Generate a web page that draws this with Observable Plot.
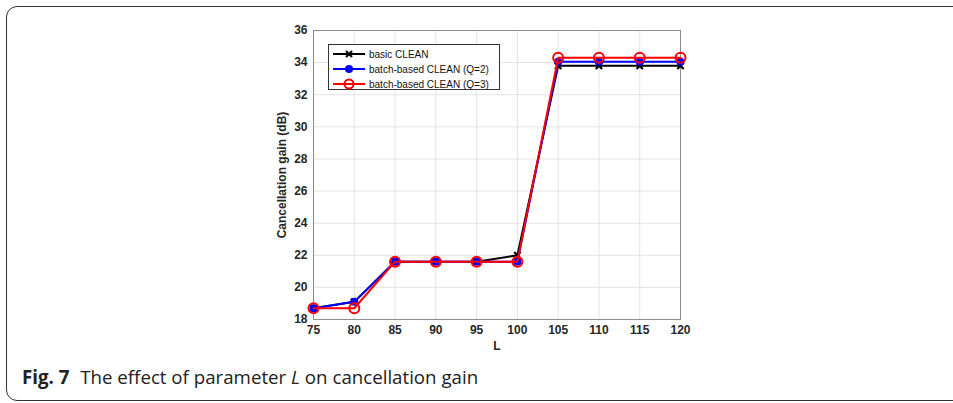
<!DOCTYPE html>
<html>
<head>
<meta charset="utf-8">
<script src="https://cdn.jsdelivr.net/npm/d3@7"></script>
<script src="https://cdn.jsdelivr.net/npm/@observablehq/plot@0.6"></script>
<style>
  html, body { margin: 0; padding: 0; background: #fff; }
  #wrap { position: relative; width: 953px; height: 403px; overflow: hidden; }
  #border { position: absolute; left: 6px; top: 6px; width: 980px; height: 393px; border: 1.5px solid #333; border-radius: 11px; }
  #chart { position: absolute; left: 0; top: 0; }
  #legend { position: absolute; left: 328px; top: 44px; width: 172px; height: 46px; background: #fff; border: 1px solid #333; box-sizing: border-box; font: 10px "Liberation Sans", Arial, sans-serif; color: #111; }
  .row { position: absolute; left: 3px; height: 14px; display: flex; align-items: center; }
  .row svg { margin-right: 3px; }
  #caption { position: absolute; left: 22px; top: 364px; font: 18.7px "Open Sans", "Noto Sans", sans-serif; color: #222; white-space: nowrap; }
  #caption b { font-weight: 700; margin-right: 6px; }
</style>
</head>
<body>
<div id="wrap">
  <div id="border"></div>
  <div id="chart"></div>
  <div id="legend"></div>
  <div id="caption"><b>Fig. 7</b> The effect of parameter <i>L</i> on cancellation gain</div>
</div>
<script>
const L = [75, 80, 85, 90, 95, 100, 105, 110, 115, 120];
const basicClean = [18.7, 19.1, 21.6, 21.6, 21.6, 22.0, 33.8, 33.8, 33.8, 33.8];
const batchQ2 = [18.7, 19.1, 21.6, 21.6, 21.6, 21.6, 34.05, 34.05, 34.05, 34.05];
const batchQ3 = [18.7, 18.7, 21.6, 21.6, 21.6, 21.6, 34.3, 34.3, 34.3, 34.3];
const seriesNames = ["basic CLEAN", "batch-based CLEAN (Q=2)", "batch-based CLEAN (Q=3)"];
const seriesColors = ["#000000", "#0000ff", "#ff0000"];
const xTicks = [75, 80, 85, 90, 95, 100, 105, 110, 115, 120];
const yTicks = [18, 20, 22, 24, 26, 28, 30, 32, 34, 36];

const rows = (vals) => L.map((l, i) => ({L: l, v: vals[i]}));
const d0 = rows(basicClean), d1 = rows(batchQ2), d2 = rows(batchQ3);

const chart = Plot.plot({
  width: 953,
  height: 360,
  marginLeft: 313,
  marginRight: 273,
  marginTop: 30,
  marginBottom: 41,
  style: {fontFamily: "'Liberation Sans', Arial, sans-serif", fontSize: "12px", color: "#262626", background: "transparent", overflow: "visible"},
  x: {type: "linear", domain: [75, 120], ticks: xTicks, label: "L"},
  y: {type: "linear", domain: [18, 36], ticks: yTicks, label: "Cancellation gain (dB)"},
  marks: [
    Plot.gridX(xTicks, {stroke: "#dcdcdc", strokeOpacity: 1, strokeWidth: 0.8}),
    Plot.gridY(yTicks, {stroke: "#dcdcdc", strokeOpacity: 1, strokeWidth: 0.8}),
    Plot.frame({stroke: "#8c8c8c", strokeWidth: 1}),
    Plot.axisX(xTicks, {tickSize: 0, tickPadding: 6, fontWeight: "bold", label: "L", labelAnchor: "center", labelOffset: 30, labelArrow: "none"}),
    Plot.axisY(yTicks, {tickSize: 0, tickPadding: 6, fontWeight: "bold", label: "Cancellation gain (dB)", labelAnchor: "center", labelOffset: 36, labelArrow: "none"}),
    Plot.line(d0, {x: "L", y: "v", stroke: seriesColors[0], strokeWidth: 2}),
    Plot.dot(d0, {x: "L", y: "v", symbol: "times", stroke: seriesColors[0], strokeWidth: 2.2, r: 3}),
    Plot.line(d1, {x: "L", y: "v", stroke: seriesColors[1], strokeWidth: 2}),
    Plot.dot(d1, {x: "L", y: "v", symbol: "circle", fill: seriesColors[1], r: 4}),
    Plot.line(d2, {x: "L", y: "v", stroke: seriesColors[2], strokeWidth: 2}),
    Plot.dot(d2, {x: "L", y: "v", symbol: "circle", stroke: seriesColors[2], fill: "none", strokeWidth: 2, r: 5})
  ]
});
document.getElementById("chart").appendChild(chart);

// legend
const legend = document.getElementById("legend");
const markers = [
  `<path d="M-3,-3L3,3M-3,3L3,-3" stroke="#000" stroke-width="2"/>`,
  `<circle r="4" fill="#0000ff"/>`,
  `<circle r="4.5" fill="none" stroke="#ff0000" stroke-width="2"/>`
];
seriesNames.forEach((name, i) => {
  const row = document.createElement("div");
  row.className = "row";
  row.style.top = (2 + i * 15) + "px";
  row.innerHTML = `<svg width="34" height="14"><line x1="1" x2="33" y1="7" y2="7" stroke="${seriesColors[i]}" stroke-width="2"/><g transform="translate(17,7)">${markers[i]}</g></svg><span>${name}</span>`;
  legend.appendChild(row);
});
</script>
</body>
</html>
